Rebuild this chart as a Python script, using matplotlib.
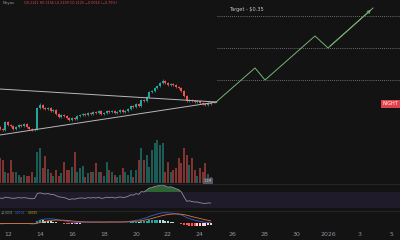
import numpy as np
import pandas as pd
import matplotlib
matplotlib.use("Agg")
import matplotlib.pyplot as plt
import matplotlib.dates as mdates

# 4h candles, Dec 11 12:00 -> Dec 24 ~16:00
closes = [0.1734, 0.1719, 0.1844, 0.1797, 0.1781, 0.1734, 0.1766, 0.1797, 0.1781, 0.1813,
          0.1766, 0.1734, 0.1719, 0.1734, 0.2063, 0.2109, 0.2063, 0.2047, 0.2063, 0.2016,
          0.2031, 0.1969, 0.1922, 0.1953, 0.1938, 0.1906, 0.1875, 0.1906, 0.1891, 0.1938,
          0.1953, 0.1969, 0.1953, 0.1984, 0.1969, 0.2000, 0.1984, 0.2016, 0.1969, 0.1984,
          0.2016, 0.2000, 0.2016, 0.1984, 0.2000, 0.2031, 0.2000, 0.2016, 0.2047, 0.2094,
          0.2078, 0.2125, 0.2094, 0.2188, 0.2172, 0.2234, 0.2313, 0.2328, 0.2375, 0.2406,
          0.2453, 0.2484, 0.2453, 0.2422, 0.2438, 0.2422, 0.2391, 0.2375, 0.2328, 0.2250,
          0.2172, 0.2188, 0.2172, 0.2156, 0.2172, 0.2141, 0.2125, 0.2109, 0.2141, 0.2125]
opens = [0.1766] + closes[:-1]
highs = [0.1781, 0.1750, 0.1859, 0.1859, 0.1813, 0.1797, 0.1781, 0.1813, 0.1813, 0.1828,
         0.1828, 0.1781, 0.1750, 0.1750, 0.2078, 0.2141, 0.2125, 0.2078, 0.2078, 0.2078,
         0.2047, 0.2047, 0.1984, 0.1969, 0.1969, 0.1953, 0.1922, 0.1922, 0.1922, 0.1953,
         0.1969, 0.1984, 0.1984, 0.2000, 0.2000, 0.2016, 0.2016, 0.2031, 0.2031, 0.2000,
         0.2031, 0.2031, 0.2031, 0.2031, 0.2016, 0.2047, 0.2047, 0.2031, 0.2063, 0.2109,
         0.2109, 0.2141, 0.2141, 0.2203, 0.2203, 0.2250, 0.2328, 0.2344, 0.2391, 0.2422,
         0.2469, 0.2516, 0.2500, 0.2469, 0.2453, 0.2453, 0.2438, 0.2406, 0.2391, 0.2344,
         0.2266, 0.2203, 0.2203, 0.2188, 0.2188, 0.2188, 0.2156, 0.2141, 0.2156, 0.2156]
lows = [0.1719, 0.1703, 0.1703, 0.1781, 0.1766, 0.1719, 0.1719, 0.1750, 0.1766, 0.1766,
        0.1750, 0.1719, 0.1703, 0.1703, 0.1719, 0.2047, 0.2047, 0.2031, 0.2031, 0.2000,
        0.2000, 0.1953, 0.1906, 0.1906, 0.1922, 0.1891, 0.1859, 0.1859, 0.1875, 0.1875,
        0.1922, 0.1938, 0.1938, 0.1938, 0.1953, 0.1953, 0.1969, 0.1969, 0.1953, 0.1953,
        0.1969, 0.1984, 0.1984, 0.1969, 0.1969, 0.1984, 0.1984, 0.1984, 0.2000, 0.2031,
        0.2063, 0.2063, 0.2078, 0.2078, 0.2156, 0.2156, 0.2219, 0.2297, 0.2313, 0.2359,
        0.2391, 0.2438, 0.2438, 0.2406, 0.2406, 0.2406, 0.2375, 0.2359, 0.2313, 0.2234,
        0.2156, 0.2156, 0.2156, 0.2141, 0.2141, 0.2125, 0.2109, 0.2094, 0.2094, 0.2109]
volumes = [25, 23, 11, 10, 23, 11, 11, 8, 6, 8, 7, 7, 11, 6, 31, 35, 15, 27, 14, 10,
           7, 13, 7, 10, 21, 13, 13, 16, 31, 11, 15, 17, 6, 10, 11, 11, 20, 11, 11, 7,
           21, 13, 11, 8, 6, 8, 15, 11, 8, 13, 6, 13, 23, 35, 23, 28, 16, 33, 40, 43,
           38, 40, 11, 21, 11, 13, 15, 25, 20, 35, 28, 18, 25, 13, 7, 15, 11, 20, 9, 6]
rsi = [55, 54, 57, 56, 55, 54, 55, 56, 55, 56, 55, 54, 53, 54, 66, 68, 66, 65, 66, 64,
       64, 61, 58, 57, 56, 54, 51, 53, 52, 54, 55, 55, 54, 56, 55, 56, 55, 57, 54, 55,
       57, 56, 57, 55, 56, 58, 56, 57, 59, 63, 62, 66, 64, 71, 70, 75, 80, 81, 84, 85,
       87, 88, 85, 82, 83, 81, 78, 76, 70, 58, 47, 48, 46, 45, 45, 43, 42, 41, 43, 42]
macd = [-0.8, -1.0, -0.6, -0.5, -0.5, -0.7, -0.7, -0.6, -0.6, -0.5, -0.6, -0.8, -1.0, -1.0,
        1.5, 3.5, 4.2, 4.6, 4.9, 4.8, 4.7, 4.2, 3.5, 3.0, 2.6, 2.0, 1.3, 1.0, 0.7, 0.7,
        0.8, 0.9, 0.9, 1.0, 1.0, 1.1, 1.1, 1.2, 1.0, 1.0, 1.2, 1.2, 1.3, 1.1, 1.1, 1.3,
        1.2, 1.3, 1.6, 2.2, 2.5, 3.2, 3.4, 4.5, 5.2, 6.2, 7.6, 8.6, 9.6, 10.5, 11.3, 11.9,
        12.0, 11.8, 11.6, 11.3, 10.8, 10.2, 9.4, 8.0, 6.3, 5.2, 4.2, 3.3, 2.7, 2.0, 1.4,
        0.8, 0.6, 0.4]
signal = [-0.6, -0.7, -0.7, -0.6, -0.6, -0.6, -0.6, -0.6, -0.6, -0.6, -0.6, -0.6, -0.7, -0.8,
          -0.3, 0.5, 1.2, 1.9, 2.5, 2.9, 3.2, 3.4, 3.4, 3.3, 3.2, 3.0, 2.7, 2.4, 2.1, 1.8,
          1.6, 1.4, 1.3, 1.2, 1.15, 1.1, 1.1, 1.1, 1.1, 1.1, 1.1, 1.1, 1.15, 1.15, 1.15, 1.15,
          1.2, 1.2, 1.3, 1.5, 1.7, 2.0, 2.3, 2.7, 3.2, 3.8, 4.5, 5.3, 6.2, 7.0, 7.9, 8.7,
          9.4, 9.9, 10.3, 10.5, 10.6, 10.5, 10.3, 9.8, 9.1, 8.3, 7.5, 6.7, 6.0, 5.2, 4.5,
          3.8, 3.1, 2.5]

# drawings
tri_days = ["2025-12-11 12:00", "2025-12-25 01:00"]
tri_upper = [0.2359, 0.2156]
tri_lower = [0.1641, 0.2156]
target_levels = [0.35, 0.30, 0.25]
path_days = ["2025-12-24 22:30", "2025-12-27 10:30", "2025-12-28 01:30",
             "2025-12-31 04:30", "2026-01-01 00:00", "2026-01-03 19:30"]
path_prices = [0.2141, 0.2688, 0.25, 0.3188, 0.30, 0.3625]
tick_days = ["2025-12-12", "2025-12-14", "2025-12-16", "2025-12-18", "2025-12-20",
             "2025-12-22", "2025-12-24", "2025-12-26", "2025-12-28", "2025-12-30",
             "2026-01-01", "2026-01-03", "2026-01-05"]
tick_labels = ["12", "14", "16", "18", "20", "22", "24", "26", "28", "30", "2026", "3", "5"]

bg = "#131314"
up, down = "#26a69a", "#ef5350"
t = mdates.date2num(pd.date_range("2025-12-11 12:00", periods=len(closes), freq="4h"))
o, c = np.array(opens), np.array(closes)
is_up = c >= o

fig = plt.figure(figsize=(4, 2.4), dpi=100, facecolor=bg)

def px_axes(top, bottom):
    ax = fig.add_axes([0, (240 - bottom) / 240, 1, (bottom - top) / 240])
    ax.set_facecolor("none")
    for s in ax.spines.values():
        s.set_visible(False)
    ax.set_xlim(mdates.date2num(pd.Timestamp("2025-12-11 12:00")),
                mdates.date2num(pd.Timestamp("2026-01-05 12:00")))
    ax.set_xticks([])
    ax.set_yticks([])
    return ax

ax_v = px_axes(134, 183)
ax_p = px_axes(0, 184)
ax_r = px_axes(184, 211)
ax_m = px_axes(211, 229)

# volume
vcol = [up if u else down for u in is_up]
ax_v.bar(t, volumes, width=0.14, color=vcol, alpha=0.5, linewidth=0)
ax_v.set_ylim(0, 49)
ax_v.text(mdates.date2num(pd.Timestamp("2025-12-24 12:00")), 2.5, "1.2M", color="#d0d0d4",
          fontsize=2.4, va="center", ha="center",
          bbox=dict(boxstyle="square,pad=0.3", fc="#55555e", ec="none"))

# candles
ax_p.set_ylim(0.0875, 0.375)
ccol = np.where(is_up, up, down)
ax_p.vlines(t, lows, highs, colors=ccol, linewidth=0.5)
body = np.maximum(np.abs(c - o), 0.0005)
ax_p.bar(t, body, bottom=np.minimum(o, c), width=0.12, color=ccol, linewidth=0)

# triangle
td = mdates.date2num(pd.to_datetime(tri_days))
ax_p.plot(td, tri_upper, color="#b8b8bc", lw=0.7)
ax_p.plot(td, tri_lower, color="#b8b8bc", lw=0.7)

# target levels
x0 = mdates.date2num(pd.Timestamp("2025-12-25 01:30"))
x1 = mdates.date2num(pd.Timestamp("2026-01-05 12:00"))
for lv in target_levels:
    ax_p.hlines(lv, x0, x1, colors="#8d8d92", linestyles=(0, (1, 1.5)), lw=0.6)
ax_p.text(mdates.date2num(pd.Timestamp("2025-12-25 20:00")), 0.356, "Target - $0.35",
          color="#c9c9cc", fontsize=3.6, va="bottom")

# projected path
pd_num = mdates.date2num(pd.to_datetime(path_days))
ax_p.plot(pd_num, path_prices, color="#76b276", lw=0.7)
ax_p.annotate("", xy=(pd_num[-1], path_prices[-1]), xytext=(pd_num[-2], path_prices[-2]),
              arrowprops=dict(arrowstyle="->", color="#76b276", lw=0.7, mutation_scale=5))

# price label
ax_p.text(mdates.date2num(pd.Timestamp("2026-01-05 10:00")), closes[-1], "NIGHT",
          color="white", fontsize=3.5, va="center", ha="right",
          bbox=dict(boxstyle="square,pad=0.35", fc="#e0424c", ec="none"))

# RSI
r = np.array(rsi)
ax_r.set_ylim(22.5, 90)
ax_r.axhspan(30, 70, color="#7e57c2", alpha=0.13, lw=0)
ax_r.fill_between(t, 70, r, where=r > 70, interpolate=True, color="#3e9d48", alpha=0.6, lw=0)
ax_r.plot(t, r, color="#8f8ba3", lw=0.6)

# MACD
m, s = np.array(macd), np.array(signal)
hist = m - s
hcol = []
for i, h in enumerate(hist):
    prev = hist[i - 1] if i else 0
    if h >= 0:
        hcol.append("#26a69a" if h > prev else "#b2dfdb")
    else:
        hcol.append("#ffcdd2" if h > prev else "#ff5252")
ax_m.set_ylim(-7, 14)
ax_m.bar(t, hist, width=0.14, color=hcol, linewidth=0)
ax_m.plot(t, m, color="#3c5fd0", lw=0.6)
ax_m.plot(t, s, color="#d9773a", lw=0.6)

# x axis
ax_m.set_xticks(mdates.date2num(pd.to_datetime(tick_days)))
ax_m.set_xticklabels(tick_labels)
ax_m.tick_params(axis="x", length=0, pad=1.8, labelsize=4.5, colors="#8f929b")

# pane separators
for yy in (184, 211):
    fig.add_artist(plt.Line2D([0, 1], [1 - yy / 240] * 2, color="#2a2a2e", lw=0.6))

# legends
fig.text(3 / 400, 1 - 3 / 240, "Noyas", color="#9a9aa0", fontsize=2.8, va="center")
fig.text(24 / 400, 1 - 3 / 240, "O0.2141 H0.2156 L0.2109 C0.2125 −0.0016 (−0.75%)",
         color="#d9434d", fontsize=2.4, va="center")
fig.text(0.5 / 400, 1 - 213 / 240, "−0.0031", color="#9a9aa0", fontsize=2.1, va="center")
fig.text(15 / 400, 1 - 213 / 240, "0.0004", color="#3c5fd0", fontsize=2.1, va="center")
fig.text(28 / 400, 1 - 213 / 240, "0.0035", color="#d9a03a", fontsize=2.1, va="center")

fig.savefig("out.png", dpi=100, facecolor=bg)
